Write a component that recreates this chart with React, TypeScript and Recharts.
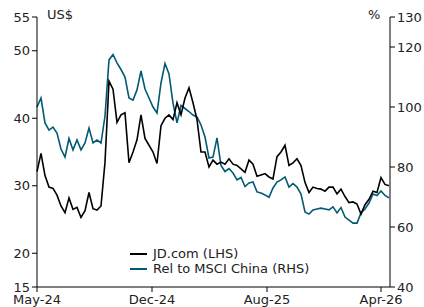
import React from "react";
import { Line, LineChart, XAxis, YAxis } from "recharts";

// weekly-ish samples, May-24 .. mid Apr-26
const jdPrice = [
  32.1, 34.8, 31.5, 29.8, 29.6, 28.6, 27.0, 26.0, 28.2, 26.5, 26.8, 25.3, 26.3, 29.0, 26.6, 26.4,
  27.0, 33.5, 45.5, 44.3, 39.4, 40.5, 40.8, 33.4, 35.0, 36.8, 40.5, 37.0, 36.0, 35.0, 33.3, 38.9,
  40.0, 40.5, 39.8, 42.3, 40.5, 43.0, 44.5, 42.3, 39.8, 35.0, 35.0, 32.8, 33.8, 33.2, 33.5, 33.2,
  34.0, 33.2, 33.0, 32.5, 32.0, 33.8, 33.2, 31.4, 31.6, 31.8, 31.3, 31.0, 34.3, 35.0, 36.0, 33.0,
  33.4, 34.0, 33.0, 30.5, 29.0, 29.8, 29.6, 29.5, 29.2, 29.8, 29.8, 28.8, 29.5, 28.4, 27.5, 27.6,
  27.3, 25.8, 27.2, 28.0, 29.2, 29.0, 31.2, 30.2, 30.0,
];

const relMsci = [
  100, 103, 94.7, 92.3, 93.3, 91.3, 86, 83.3, 89.5, 85.7, 89, 85.7, 88, 93, 88, 89,
  88, 97, 115.7, 117.5, 114.7, 112.5, 110, 103, 102.3, 105.7, 112, 106, 103, 100, 98, 108,
  114.5, 111, 101.3, 94.7, 100.5, 99.5, 98.5, 97.3, 96.7, 94, 90, 83, 83.3, 89.7, 80.5, 78.5,
  79.5, 78, 75.7, 76.5, 73.5, 74.7, 75, 71.7, 71.3, 70.7, 69.9, 73.0, 75, 75.7, 76.7, 73.3,
  74.5, 73.3, 71, 65, 64.3, 65.7, 66, 66.3, 66, 65.7, 66.7, 64.7, 66.5, 63.3, 62.3, 61.3,
  61.3, 64.7, 66, 68, 71, 70.5, 72, 70.5, 69.7,
];

const xTicks = [0, 28.75, 57.5, 86];
const xLabels = ["May-24", "Dec-24", "Aug-25", "Apr-26"];
const leftTicks = [15, 20, 30, 40, 50, 55];
const rightTicks = [40, 60, 80, 100, 120, 130];
const seriesNames = ["JD.com (LHS)", "Rel to MSCI China (RHS)"];

const data = jdPrice.map((v, i) => ({ i, jd: v, rel: relMsci[i] }));

const TEAL = "#005a73";
const FONT = "Verdana, 'DejaVu Sans', sans-serif";
const TICK = { fill: "#222", fontSize: 13, fontFamily: FONT };
const TEXT = { position: "absolute" as const, fontFamily: FONT, fontSize: 13, color: "#222", whiteSpace: "nowrap" as const };

function LegendRow({ color, text }: { color: string; text: string }) {
  return (
    <div style={{ display: "flex", alignItems: "center", height: 15 }}>
      <span style={{ display: "inline-block", width: 17, height: 2, background: color, marginRight: 6 }} />
      <span>{text}</span>
    </div>
  );
}

export default function App() {
  return (
    <div style={{ position: "absolute", left: 0, top: 0, width: 424, height: 307, background: "#fff", overflow: "hidden" }}>
      <LineChart width={424} height={307} data={data} margin={{ top: 17, right: 0, left: 0, bottom: 0 }}>
        <XAxis
          dataKey="i"
          type="number"
          domain={[0, 88.25]}
          ticks={xTicks}
          tickFormatter={(v) => xLabels[xTicks.indexOf(v)] ?? ""}
          tick={TICK}
          tickSize={5}
          tickMargin={3}
          height={20}
          stroke="#000"
          interval={0}
        />
        <YAxis
          yAxisId="l"
          domain={[15, 55]}
          ticks={leftTicks}
          tick={TICK}
          tickSize={5}
          tickMargin={2}
          width={37}
          stroke="#000"
          interval={0}
        />
        <YAxis
          yAxisId="r"
          orientation="right"
          domain={[40, 130]}
          ticks={rightTicks}
          tick={TICK}
          tickSize={5}
          tickMargin={2}
          width={34}
          stroke="#000"
          interval={0}
        />
        <Line yAxisId="r" dataKey="rel" stroke={TEAL} strokeWidth={1.6} dot={false} isAnimationActive={false} />
        <Line yAxisId="l" dataKey="jd" stroke="#000" strokeWidth={1.6} dot={false} isAnimationActive={false} />
      </LineChart>
      <div style={{ ...TEXT, left: 47, top: 7 }}>US$</div>
      <div style={{ ...TEXT, left: 368, top: 7 }}>%</div>
      <div style={{ ...TEXT, left: 130, top: 246 }}>
        <LegendRow color="#000" text={seriesNames[0]} />
        <LegendRow color={TEAL} text={seriesNames[1]} />
      </div>
    </div>
  );
}
